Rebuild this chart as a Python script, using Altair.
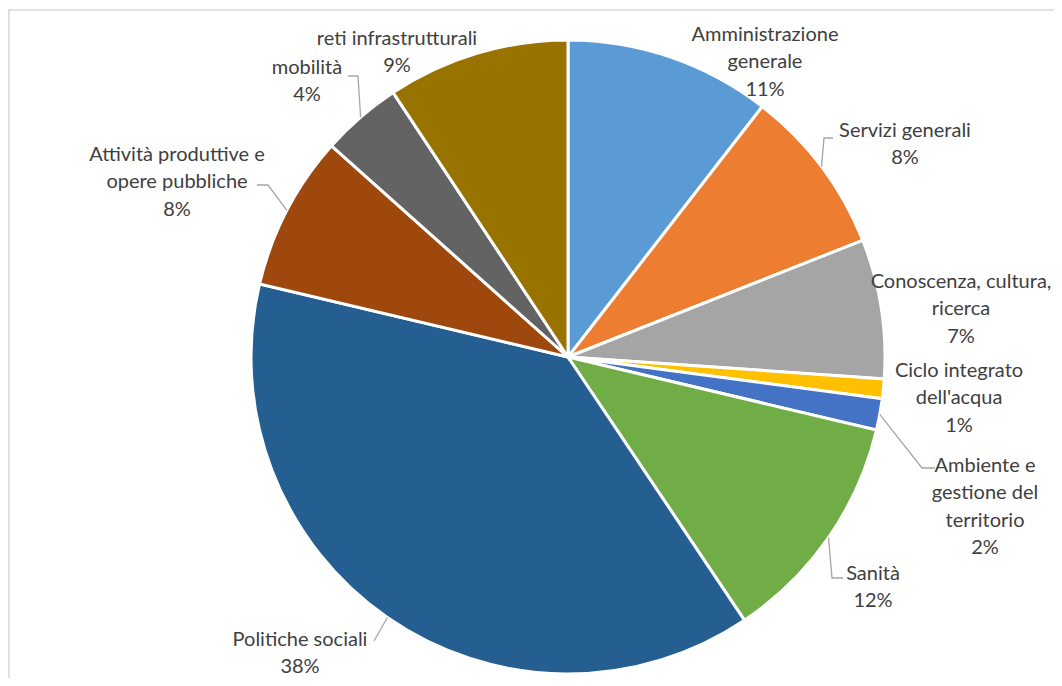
import math
import altair as alt
import pandas as pd

# ---- data ----
categories = [
    "Amministrazione generale", "Servizi generali", "Conoscenza, cultura, ricerca",
    "Ciclo integrato dell'acqua", "Ambiente e gestione del territorio", "Sanità",
    "Politiche sociali", "Attività produttive e opere pubbliche", "mobilità",
    "reti infrastrutturali",
]
values = [10.5, 8.5, 7.1, 1.0, 1.6, 11.9, 38.1, 7.9, 4.1, 9.3]
pct_labels = ["11%", "8%", "7%", "1%", "2%", "12%", "38%", "8%", "4%", "9%"]
label_lines = [
    ["Amministrazione", "generale"],
    ["Servizi generali"],
    ["Conoscenza, cultura,", "ricerca"],
    ["Ciclo integrato", "dell'acqua"],
    ["Ambiente e", "gestione del", "territorio"],
    ["Sanità"],
    ["Politiche sociali"],
    ["Attività produttive e", "opere pubbliche"],
    ["mobilità"],
    ["reti infrastrutturali"],
]
colors = ["#5B9BD5", "#ED7D31", "#A5A5A5", "#FFC000", "#4472C4",
          "#70AD47", "#255E91", "#9E480E", "#636363", "#997300"]

# ---- layout (pixels) ----
W, H = 1046, 670
CX, CY, R = 560, 349, 316
LINE_H = 27.3
# label block: centre x offset, first-line y offset (relative to pie centre)
label_off = [(197, -322), (337, -226), (393, -75), (391, 14), (417, 109),
             (305, 217), (-268, 283), (-391, -202), (-261, -289), (-171, -318)]
# leader lines: elbow and end offsets relative to pie centre
leaders = {1: ((256, -219), (265, -219)),
           4: ((354, 111), (367, 111)),
           5: ((264, 221), (275, 221)),
           6: ((-194, 284), (-194, 284)),
           7: ((-300, -172), (-311, -172)),
           8: ((-210, -281), (-220, -281))}

pie_df = pd.DataFrame({"cat": categories, "value": values, "idx": list(range(len(values)))})

rows = []
for i, (lines, pct) in enumerate(zip(label_lines, pct_labels)):
    dx, dy = label_off[i]
    for j, t in enumerate(lines + [pct]):
        rows.append({"x": CX + dx, "y": CY + dy + j * LINE_H, "t": t})
text_df = pd.DataFrame(rows)

total = sum(values)
lead_rows = []
cum = 0.0
for i, v in enumerate(values):
    mid = 2 * math.pi * (cum + v / 2) / total
    cum += v
    if i in leaders:
        (ex, ey), (fx, fy) = leaders[i]
        sx = CX + (R + 1) * math.sin(mid)
        sy = CY - (R + 1) * math.cos(mid)
        for k, (px, py) in enumerate([(sx, sy), (CX + ex, CY + ey), (CX + fx, CY + fy)]):
            lead_rows.append({"g": i, "k": k, "x": px, "y": py})
lead_df = pd.DataFrame(lead_rows)

border = alt.Chart(pd.DataFrame({"a": [0]})).mark_rect(
    fillOpacity=0, stroke="#d9d9d9", strokeWidth=1.6
).encode(x=alt.value(1), y=alt.value(2), x2=alt.value(1200), y2=alt.value(900))

pie = alt.Chart(pie_df).mark_arc(
    outerRadius=R + 1, stroke="white", strokeWidth=3
).encode(
    theta=alt.Theta("value:Q", stack=True),
    order=alt.Order("idx:Q", sort="ascending"),
    color=alt.Color("cat:N", scale=alt.Scale(domain=categories, range=colors), legend=None),
    x=alt.value(CX), y=alt.value(CY),
)

leader = alt.Chart(lead_df).mark_line(color="#a6a6a6", strokeWidth=1.3).encode(
    x=alt.X("x:Q", scale=None, axis=None),
    y=alt.Y("y:Q", scale=None, axis=None),
    detail="g:N",
    order="k:Q",
)

texts = alt.Chart(text_df).mark_text(
    font="Lato", fontSize=20, color="#404040", align="center", baseline="middle"
).encode(
    x=alt.X("x:Q", scale=None, axis=None),
    y=alt.Y("y:Q", scale=None, axis=None),
    text="t:N",
)

chart = alt.layer(border, pie, leader, texts).properties(
    width=W, height=H, padding=0, autosize=alt.AutoSizeParams(type="none"),
    background="white",
).configure_view(stroke=None)

chart.save("out.html", embed_options={"renderer": "svg", "actions": False})
